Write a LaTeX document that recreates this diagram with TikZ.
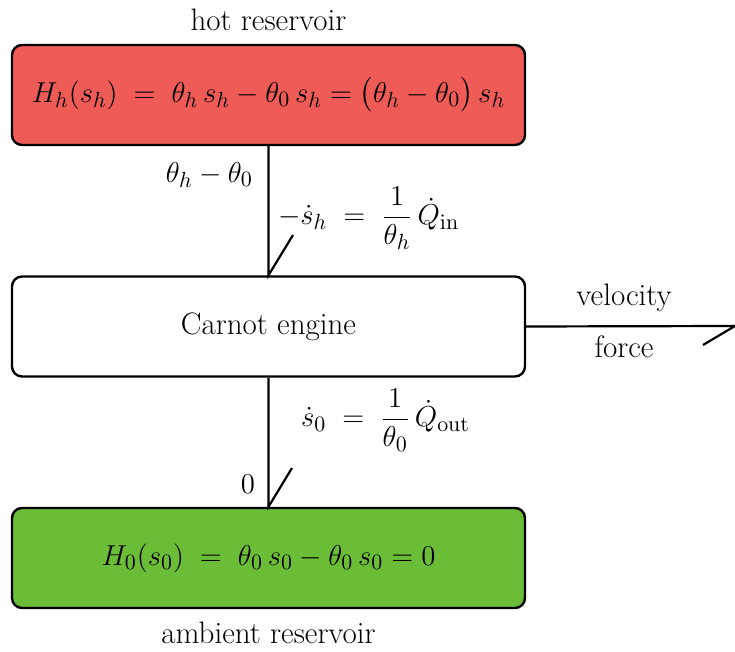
\documentclass[tikz,border=0pt]{standalone}
\usepackage{amsmath}
\definecolor{hotred}{RGB}{239,91,86}
\definecolor{ambgreen}{RGB}{107,189,55}
\begin{document}
\begin{tikzpicture}[x=0.5pt,y=-0.5pt,
  every node/.style={font=\fontsize{15.5}{18}\selectfont},
  box/.style={draw=black,line width=1.2pt,rounded corners=5pt,minimum width=256.5pt,minimum height=50pt,inner sep=0pt},
  bond/.style={line width=1.1pt}]
\useasboundingbox (0,0) rectangle (735,652);
\node[box,fill=hotred] (hot) at (268.5,95) {$H_h(s_h) \;=\; \theta_h\, s_h - \theta_0\, s_h = \bigl(\theta_h - \theta_0\bigr)\, s_h$};
\node[box,fill=white] (eng) at (268.5,326.5) {Carnot engine};
\node[box,fill=ambgreen] (amb) at (268.5,558) {$H_0(s_0) \;=\; \theta_0\, s_0 - \theta_0\, s_0 = 0$};
\node (hotlab) at (268.5,20) {hot reservoir};
\node (amblab) at (268.5,633) {ambient reservoir};
\coordinate (ha1) at (293,235);
\coordinate (ha2) at (292,468);
\coordinate (out) at (735,326);
\coordinate (ha3) at (703,345);
\draw[bond] (hot.south) -- (eng.north) -- (ha1);
\draw[bond] (eng.south) -- (amb.north) -- (ha2);
\draw[bond] (eng.east) -- (out) -- (ha3);
\node[anchor=east] (e1) at (260,175) {$\theta_h - \theta_0$};
\node[anchor=west] (f1) at (271,218) {$-\dot s_h \;=\; \dfrac{1}{\theta_h}\,\dot Q_{\mathrm{in}}$};
\node (e2) at (248,484) {$0$};
\node[anchor=west] (f2) at (294,420) {$\dot s_0 \;=\; \dfrac{1}{\theta_0}\,\dot Q_{\mathrm{out}}$};
\node (vel) at (624,298) {velocity};
\node (frc) at (624,347) {force};
\end{tikzpicture}
\end{document}
